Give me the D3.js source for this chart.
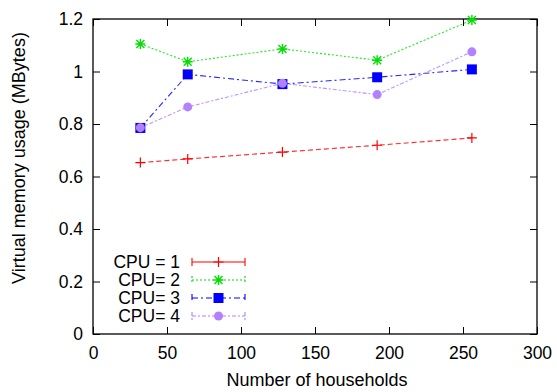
<!DOCTYPE html>
<html>
<head>
<meta charset="utf-8">
<script src="https://cdn.jsdelivr.net/npm/d3@7"></script>
<style>
  body { margin: 0; background: #fff; }
  text { font-family: "Liberation Sans", Arial, sans-serif; }
</style>
</head>
<body>
<div id="chart"></div>
<script>
const households = [32, 64, 128, 192, 256];
const cpu1 = [0.653, 0.667, 0.693, 0.719, 0.747];
const cpu2 = [1.105, 1.037, 1.086, 1.043, 1.196];
const cpu3 = [0.785, 0.989, 0.952, 0.978, 1.008];
const cpu4 = [0.786, 0.865, 0.955, 0.912, 1.075];
const seriesNames = ["CPU = 1", "CPU= 2", "CPU= 3", "CPU= 4"];
const xTicks = [0, 50, 100, 150, 200, 250, 300];
const yTicks = [0, 0.2, 0.4, 0.6, 0.8, 1, 1.2];

var width = 557, height = 392;
var margin = { top: 19, right: 20, bottom: 58, left: 93 };
var fs = 17.5;

var svg = d3.select("#chart").append("svg")
  .attr("width", width)
  .attr("height", height);

var x = d3.scaleLinear().domain([0, 300]).range([margin.left, width - margin.right]);
var y = d3.scaleLinear().domain([0, 1.2]).range([height - margin.bottom, margin.top]);

// styles per series
var styles = [
  { color: "#ff0000", dash: "5,3", marker: "plus", values: cpu1 },
  { color: "#00e000", dash: "2,2", marker: "star", values: cpu2 },
  { color: "#0000ff", dash: "6,3,2,3", marker: "square", values: cpu3 },
  { color: "#b380ff", dash: "4,2,2,2", marker: "circle", values: cpu4 }
];

// axes with inward ticks, mirrored
var tickLen = 7;
svg.append("g")
  .attr("transform", "translate(0," + y(0) + ")")
  .call(d3.axisBottom(x).tickValues(xTicks).tickSizeInner(-tickLen).tickSizeOuter(0).tickPadding(13))
  .call(g => g.select(".domain").remove())
  .selectAll("text").attr("font-size", fs).attr("fill", "#000");
svg.append("g")
  .attr("transform", "translate(0," + y(1.2) + ")")
  .call(d3.axisTop(x).tickValues(xTicks).tickSizeInner(-tickLen).tickSizeOuter(0).tickFormat(""))
  .call(g => g.select(".domain").remove());
svg.append("g")
  .attr("transform", "translate(" + x(0) + ",0)")
  .call(d3.axisLeft(y).tickValues(yTicks).tickSizeInner(-tickLen).tickSizeOuter(0).tickPadding(10).tickFormat(d3.format("~g")))
  .call(g => g.select(".domain").remove())
  .selectAll("text").attr("font-size", fs).attr("fill", "#000");
svg.append("g")
  .attr("transform", "translate(" + x(300) + ",0)")
  .call(d3.axisRight(y).tickValues(yTicks).tickSizeInner(-tickLen).tickSizeOuter(0).tickFormat(""))
  .call(g => g.select(".domain").remove());
svg.selectAll(".tick line").attr("stroke", "#000").attr("stroke-width", 1);

svg.append("rect")
  .attr("x", x(0)).attr("y", y(1.2))
  .attr("width", x(300) - x(0)).attr("height", y(0) - y(1.2))
  .attr("fill", "none").attr("stroke", "#000").attr("stroke-width", 1.3);

function drawMarker(g, kind, cx, cy, color) {
  if (kind == "plus") {
    g.append("path").attr("d", "M" + (cx - 5) + "," + cy + "H" + (cx + 5) + "M" + cx + "," + (cy - 5) + "V" + (cy + 5))
      .attr("stroke", color).attr("stroke-width", 1.2);
  } else if (kind == "star") {
    g.append("path").attr("d",
      "M" + (cx - 5) + "," + cy + "H" + (cx + 5) + "M" + cx + "," + (cy - 5) + "V" + (cy + 5) +
      "M" + (cx - 4) + "," + (cy - 4) + "L" + (cx + 4) + "," + (cy + 4) +
      "M" + (cx - 4) + "," + (cy + 4) + "L" + (cx + 4) + "," + (cy - 4))
      .attr("stroke", color).attr("stroke-width", 1.4);
  } else if (kind == "square") {
    g.append("rect").attr("x", cx - 5).attr("y", cy - 5).attr("width", 10).attr("height", 10).attr("fill", color);
  } else {
    g.append("circle").attr("cx", cx).attr("cy", cy).attr("r", 4.5).attr("fill", color);
  }
}

var line = d3.line().x(d => x(d[0])).y(d => y(d[1]));

styles.forEach(function(s) {
  var pts = households.map((h, i) => [h, s.values[i]]);
  var g = svg.append("g");
  g.append("path").datum(pts)
    .attr("d", line)
    .attr("fill", "none")
    .attr("stroke", s.color)
    .attr("stroke-width", 1.1)
    .attr("stroke-dasharray", s.dash)
    .attr("opacity", 0.85);
  pts.forEach(p => drawMarker(g, s.marker, x(p[0]), y(p[1]), s.color));
});

// legend
var legend = svg.append("g");
seriesNames.forEach(function(name, i) {
  var s = styles[i];
  var ly = 262 + i * 18;
  legend.append("text")
    .attr("x", 180).attr("y", ly).attr("dy", "0.35em")
    .attr("text-anchor", "end").attr("font-size", fs)
    .text(name);
  legend.append("path")
    .attr("d", "M192," + ly + "H245M192," + (ly - 4) + "V" + (ly + 4) + "M245," + (ly - 4) + "V" + (ly + 4))
    .attr("stroke", s.color).attr("fill", "none").attr("stroke-width", 1.1)
    .attr("stroke-dasharray", i == 0 ? null : s.dash);
  drawMarker(legend, s.marker, 218.5, ly, s.color);
});

// axis titles
svg.append("text")
  .attr("x", (x(0) + x(300)) / 2 + 2).attr("y", 386)
  .attr("text-anchor", "middle").attr("font-size", 18)
  .text("Number of households");
svg.append("text")
  .attr("transform", "translate(25,158) rotate(-90)")
  .attr("text-anchor", "middle").attr("font-size", 18)
  .text("Virtual memory usage (MBytes)");
</script>
</body>
</html>
